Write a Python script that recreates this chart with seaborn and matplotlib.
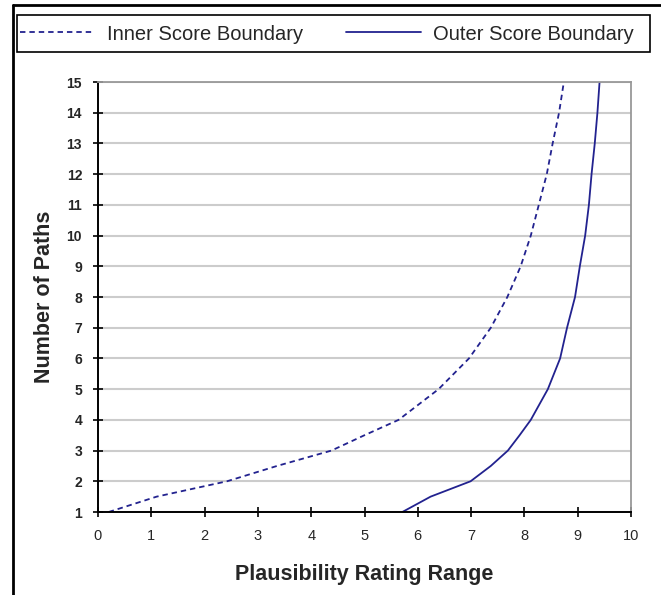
import numpy as np
import pandas as pd
import matplotlib
matplotlib.use("Agg")
import matplotlib.pyplot as plt
from matplotlib.lines import Line2D
from matplotlib.patches import Rectangle
import seaborn as sns

# values (x = rating range, y = number of paths)
paths = [1, 1.5, 2, 2.5, 3, 3.5, 4, 5, 6, 7, 8, 9, 10, 11, 12, 13, 14, 15]
inner_x = [0.2, 1.1, 2.42, 3.36, 4.38, 5.0, 5.64, 6.39, 6.96, 7.37,
           7.68, 7.93, 8.12, 8.27, 8.42, 8.53, 8.65, 8.74]
outer_x = [5.71, 6.24, 6.99, 7.37, 7.69, 7.91, 8.12, 8.44, 8.67, 8.80,
           8.95, 9.04, 9.14, 9.21, 9.26, 9.32, 9.37, 9.41]
x_ticks = list(range(0, 11))
y_ticks = list(range(1, 16))

df = pd.DataFrame({
    "Paths": paths * 2,
    "Range": inner_x + outer_x,
    "Series": ["Inner Score Boundary"] * len(paths) + ["Outer Score Boundary"] * len(paths),
})

sns.set_style("white")
plt.rcParams['font.family'] = ['Liberation Sans', 'DejaVu Sans']

navy = "#22228f"
fig = plt.figure(figsize=(6.61, 5.95), dpi=100)
ax = fig.add_axes([98 / 661, 1 - 512 / 595, 533 / 661, 430 / 595])

sns.lineplot(data=df, x="Range", y="Paths", hue="Series", style="Series",
             palette=[navy, navy], dashes=[(3, 2.2), ""], sort=False,
             estimator=None, linewidth=1.3, ax=ax, legend=False)

ax.set_xlim(0, 10)
ax.set_ylim(1, 15)
ax.set_xticks(x_ticks)
ax.set_yticks(y_ticks)
ax.set_xticklabels([str(v) for v in x_ticks], fontsize=10.5)
ax.set_yticklabels([str(v) for v in y_ticks], fontsize=10, fontweight="bold")
ax.tick_params(axis="both", direction="inout", length=7, width=1.2, color="black",
               bottom=True, left=True)
ax.tick_params(axis="x", pad=9)
ax.tick_params(axis="y", pad=8)
ax.grid(axis="y", color="#cccccc", linewidth=1.5)
ax.set_axisbelow(True)
for side in ["left", "bottom"]:
    ax.spines[side].set_color("black")
    ax.spines[side].set_linewidth(1.4)
for side in ["top", "right"]:
    ax.spines[side].set_color("#999999")
    ax.spines[side].set_linewidth(1.3)
ax.set_xlabel("Plausibility Rating Range", fontsize=15.5, fontweight="bold", labelpad=15)
ax.set_ylabel("Number of Paths", fontsize=15.5, fontweight="bold", labelpad=8)

# legend across the top, framed by a separate box
fig.add_artist(Rectangle((17 / 661, 1 - 52 / 595), 633 / 661, 37 / 595, fill=False,
                         edgecolor="black", linewidth=1.2, transform=fig.transFigure))
handles = [Line2D([], [], color=navy, linewidth=1.3, dashes=(3, 2.2)),
           Line2D([], [], color=navy, linewidth=1.3)]
leg = fig.legend(handles, ["Inner Score Boundary", "Outer Score Boundary"],
                 loc="center left", bbox_to_anchor=(20 / 661, 1 - 34 / 595),
                 ncol=2, fontsize=14.5, frameon=False, handlelength=3.7,
                 handletextpad=0.6, columnspacing=2.15, borderaxespad=0, borderpad=0)

# outer chart border (left and top visible)
fig.add_artist(Line2D([13 / 661, 13 / 661], [0, 1 - 5 / 595], color="black", linewidth=2,
                      transform=fig.transFigure))
fig.add_artist(Line2D([13 / 661, 1], [1 - 5 / 595, 1 - 5 / 595], color="black", linewidth=2,
                      transform=fig.transFigure))

fig.savefig("out.png", dpi=100)
